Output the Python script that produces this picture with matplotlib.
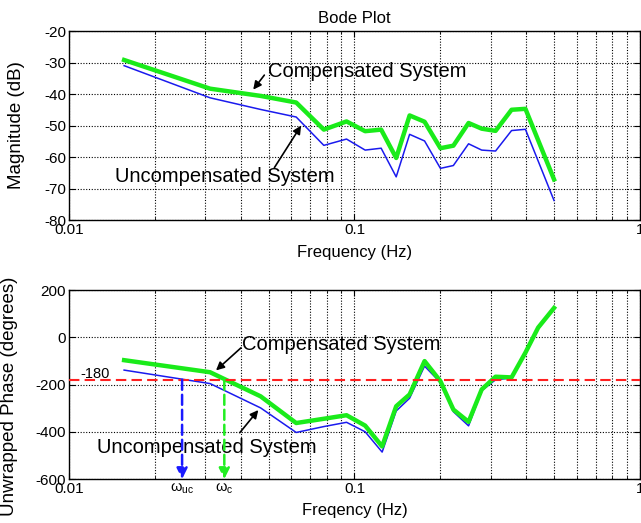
import matplotlib
matplotlib.use('Agg')
import matplotlib.pyplot as plt

plt.rcParams['font.family'] = ['Liberation Sans', 'DejaVu Sans']
plt.rcParams['mathtext.fontset'] = 'custom'
plt.rcParams['mathtext.rm'] = 'Liberation Sans'
plt.rcParams['mathtext.it'] = 'Liberation Sans'
plt.rcParams['axes.unicode_minus'] = False

# magnitude data
freq_mag = [0.0156, 0.0312, 0.0469, 0.0625, 0.0781, 0.0938, 0.109, 0.124, 0.140,
            0.156, 0.176, 0.200, 0.222, 0.251, 0.279, 0.312, 0.355, 0.397, 0.50]
mag_comp = [-29.2, -38.3, -40.6, -42.7, -51.3, -48.7, -51.8, -51.3, -60.3,
            -46.8, -48.8, -57.2, -56.4, -49.2, -51.0, -51.7, -45.0, -44.7, -67.1]
mag_unc = [-31.0, -41.2, -44.9, -47.3, -56.3, -54.3, -57.8, -57.2, -66.3,
           -52.8, -54.9, -63.6, -62.7, -55.8, -57.8, -58.1, -51.6, -51.2, -73.8]

# phase data
freq_ph = [0.0156, 0.0312, 0.0469, 0.0625, 0.0781, 0.0938, 0.109, 0.125, 0.140, 0.156,
           0.176, 0.200, 0.222, 0.251, 0.279, 0.312, 0.355, 0.397, 0.44, 0.50]
ph_comp = [-97, -148, -250, -363, -345, -330, -374, -462, -292, -242,
           -101, -186, -306, -358, -221, -167, -170, -65, 41, 124]
ph_unc = [-139, -196, -299, -403, -378, -360, -400, -486, -312, -258,
          -122, -192, -315, -375, -226, -180, -172, -68, 36, 120]

w_uc = 0.0249
w_c = 0.035

green = '#1aeb1a'
blue = '#1a1aee'

fig = plt.figure(figsize=(6.41, 5.23), dpi=100)
ax1 = fig.add_axes([0.1076, 0.5793, 0.8908, 0.3614])
ax2 = fig.add_axes([0.1076, 0.0841, 0.8908, 0.3614])

for ax in (ax1, ax2):
    ax.set_xscale('log')
    ax.set_xlim(0.01, 1)
    ax.grid(True, which='both', axis='x', ls=(0, (1, 1.5)), color='k', lw=0.8)
    ax.grid(True, which='major', axis='y', ls=(0, (1, 1.5)), color='k', lw=0.8)
    ax.tick_params(which='both', direction='in', top=True, right=True, labelsize=11, pad=2)
    ax.tick_params(which='major', length=4)
    ax.tick_params(which='minor', length=2)
    ax.set_xticks([0.01, 0.1, 1])
    ax.set_xticklabels(['0.01', '0.1', '1'])
    for s in ax.spines.values():
        s.set_linewidth(1.0)

# Magnitude
ax1.plot(freq_mag, mag_unc, color=blue, lw=1.1)
ax1.plot(freq_mag, mag_comp, color=green, lw=3.2)
ax1.set_ylim(-80, -20)
ax1.set_yticks(range(-80, -19, 10))
ax1.set_ylabel('Magnitude (dB)', fontsize=13.5)
ax1.yaxis.set_label_coords(-0.077, 0.5)
ax1.set_xlabel('Frequency (Hz)', fontsize=12)
ax1.xaxis.set_label_coords(0.5, -0.13)
ax1.set_title('Bode Plot', fontsize=12, pad=6)

ax1.text(0.0498, -32.9, 'Compensated System', fontsize=14.5, va='center', ha='left')
ax1.annotate('', xy=(0.0436, -39.3), xytext=(0.049, -33.3),
             arrowprops=dict(arrowstyle='-|>', color='k', lw=1.2, mutation_scale=12))
ax1.text(0.0145, -66.3, 'Uncompensated System', fontsize=14.5, va='center', ha='left')
ax1.annotate('', xy=(0.0658, -49.3), xytext=(0.0518, -64.1),
             arrowprops=dict(arrowstyle='-|>', color='k', lw=1.2, mutation_scale=12))

# Phase
ax2.axhline(-180, color='#ff2020', ls=(0, (5, 2.5)), lw=1.5, zorder=3)
ax2.plot(freq_ph, ph_unc, color=blue, lw=1.1)
ax2.plot(freq_ph, ph_comp, color=green, lw=3.2)
ax2.set_ylim(-600, 200)
ax2.set_yticks(range(-600, 201, 200))
ax2.set_ylabel('Unwrapped Phase (degrees)', fontsize=13.5)
ax2.yaxis.set_label_coords(-0.089, 0.435)
ax2.set_xlabel('Freqency (Hz)', fontsize=12)
ax2.xaxis.set_label_coords(0.5, -0.125)

ax2.text(0.01093, -154, '-180', fontsize=10.5, va='center', ha='left')
ax2.text(0.0403, -30, 'Compensated System', fontsize=14.5, va='center', ha='left')
ax2.annotate('', xy=(0.0322, -148), xytext=(0.0407, -37),
             arrowprops=dict(arrowstyle='-|>', color='k', lw=1.2, mutation_scale=12))
ax2.text(0.01253, -468, 'Uncompensated System', fontsize=14.5, va='center', ha='left')
ax2.annotate('', xy=(0.0467, -299), xytext=(0.0391, -413),
             arrowprops=dict(arrowstyle='-|>', color='k', lw=1.2, mutation_scale=12))

# crossover arrows
ax2.annotate('', xy=(w_uc, -600), xytext=(w_uc, -180),
             arrowprops=dict(arrowstyle='-|>', color='#1a1aff', lw=1.8, ls=(0, (4, 2)),
                             mutation_scale=16, shrinkA=0, shrinkB=0))
ax2.annotate('', xy=(w_c, -600), xytext=(w_c, -180),
             arrowprops=dict(arrowstyle='-|>', color='#22ee22', lw=1.8, ls=(0, (4, 2)),
                             mutation_scale=16, shrinkA=0, shrinkB=0))
ax2.text(w_uc, -612, r'$\omega_{uc}$', fontsize=10.5, ha='center', va='top')
ax2.text(w_c, -612, r'$\omega_{c}$', fontsize=10.5, ha='center', va='top')

fig.savefig('out.png', dpi=100)
